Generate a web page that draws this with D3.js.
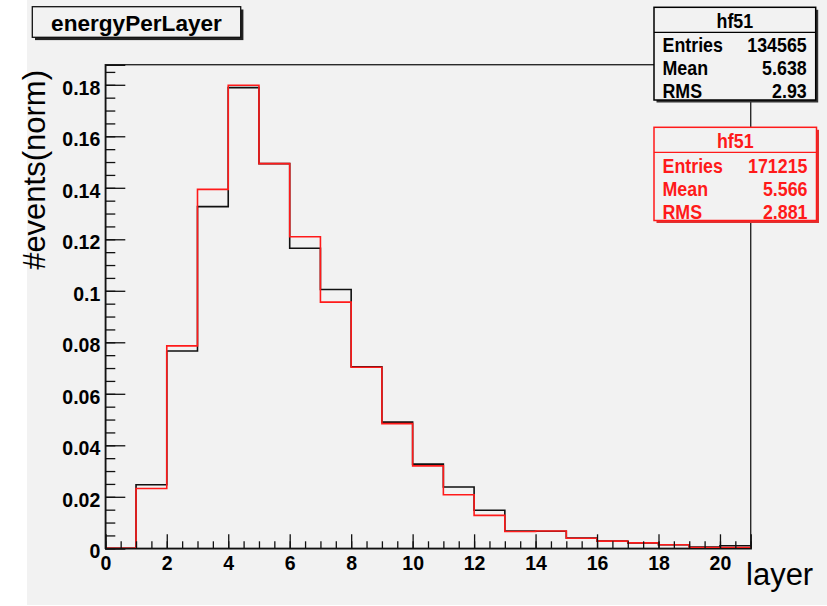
<!DOCTYPE html>
<html>
<head>
<meta charset="utf-8">
<script src="https://cdn.jsdelivr.net/npm/d3@7"></script>
<style>
  html, body { margin: 0; padding: 0; background: #ffffff; }
  svg { display: block; font-family: "Liberation Sans", Arial, Helvetica, sans-serif; }
</style>
</head>
<body>
<svg id="chart" width="827" height="606"></svg>
<script>
// Layer bins 0..20 (unit width), normalized event fractions
const binEdges = d3.range(0, 22);           // 0,1,...,21
const hBlack = [0, 0.0247, 0.0766, 0.1327, 0.1789, 0.1494, 0.1165, 0.1005, 0.0705, 0.0490,
                0.0327, 0.0238, 0.0148, 0.0067, 0.0066, 0.0040, 0.0028, 0.0021, 0.0014, 0.0005, 0.0010];
const hRed   = [0, 0.0232, 0.0786, 0.1394, 0.1798, 0.1494, 0.1210, 0.0956, 0.0703, 0.0484,
                0.0320, 0.0208, 0.0128, 0.0065, 0.0067, 0.0039, 0.0028, 0.0021, 0.0014, 0.0003, 0.0003];

// Axis ticks and labels
const xMajorTicks = [0, 2, 4, 6, 8, 10, 12, 14, 16, 18, 20];
const xTickLabels = ["0", "2", "4", "6", "8", "10", "12", "14", "16", "18", "20"];
const yMajorTicks = [0, 0.02, 0.04, 0.06, 0.08, 0.10, 0.12, 0.14, 0.16, 0.18];
const yTickLabels = ["0", "0.02", "0.04", "0.06", "0.08", "0.1", "0.12", "0.14", "0.16", "0.18"];

// Statistics boxes
const statNames = ["Entries", "Mean", "RMS"];
const statsBlack = ["134565", "5.638", "2.93"];
const statsRed = ["171215", "5.566", "2.881"];
const histName = "hf51";
const title = "energyPerLayer";

const svg = d3.select("#chart");
const bg = "#f2f2f2";

// canvas
svg.append("rect").attr("x", 27).attr("y", 0).attr("width", 800).attr("height", 605).attr("fill", bg);

const x = d3.scaleLinear().domain([0, 21]).range([105.3, 750.7]);
const y = d3.scaleLinear().domain([0, 0.1878]).range([548.3, 64.7]);

// frame
svg.append("rect")
  .attr("x", x(0)).attr("y", y.range()[1])
  .attr("width", x(21) - x(0)).attr("height", y(0) - y.range()[1])
  .attr("fill", "none").attr("stroke", "#2a2a2a").attr("stroke-width", 1.4);

// histograms as step outlines
function stepPath(vals) {
  const pts = vals.map((v, i) => [binEdges[i], v]);
  pts.push([binEdges[vals.length], vals[vals.length - 1]]);
  return d3.line().x(d => x(d[0])).y(d => y(d[1])).curve(d3.curveStepAfter)(pts);
}
svg.append("path").attr("d", stepPath(hBlack))
  .attr("fill", "none").attr("stroke", "#111").attr("stroke-width", 1.6);
svg.append("path").attr("d", stepPath(hRed))
  .attr("fill", "none").attr("stroke", "#ff1a1a").attr("stroke-width", 1.6);

// y axis: minor ticks
svg.append("g").attr("transform", `translate(${x(0)},0)`)
  .call(d3.axisLeft(y).tickValues(d3.range(0, 0.186, 0.005)).tickSize(-10).tickFormat(""))
  .call(g => g.select(".domain").remove())
  .selectAll("line").attr("stroke", "#111").attr("stroke-width", 1.3);

// y axis: major ticks and labels
const yAxis = svg.append("g").attr("transform", `translate(${x(0)},0)`)
  .call(d3.axisLeft(y).tickValues(yMajorTicks).tickSize(-20).tickPadding(5)
    .tickFormat((d, i) => yTickLabels[i]));
yAxis.select(".domain").attr("stroke", "#111").attr("stroke-width", 1.4);
yAxis.selectAll("line").attr("stroke", "#111").attr("stroke-width", 1.3);
yAxis.selectAll("text").attr("font-size", 19.5).attr("font-weight", "bold")
  .attr("fill", "#000").attr("dy", "0.48em")
  .attr("font-family", "'Liberation Sans', Arial, sans-serif");

// x axis: minor ticks
svg.append("g").attr("transform", `translate(0,${y(0)})`)
  .call(d3.axisBottom(x).tickValues(d3.range(0, 21.01, 0.5)).tickSize(-7).tickFormat(""))
  .call(g => g.select(".domain").remove())
  .selectAll("line").attr("stroke", "#111").attr("stroke-width", 1.3);

// x axis: major ticks and labels
const xAxis = svg.append("g").attr("transform", `translate(0,${y(0)})`)
  .call(d3.axisBottom(x).tickValues(xMajorTicks).tickSize(-14).tickPadding(8)
    .tickFormat((d, i) => xTickLabels[i]));
xAxis.select(".domain").attr("stroke", "#111").attr("stroke-width", 1.4);
xAxis.selectAll("line").attr("stroke", "#111").attr("stroke-width", 1.3);
xAxis.selectAll("text").attr("font-size", 19.5).attr("font-weight", "bold")
  .attr("fill", "#000")
  .attr("font-family", "'Liberation Sans', Arial, sans-serif");

// axis titles
svg.append("text")
  .attr("transform", "translate(45,70) rotate(-90)")
  .attr("text-anchor", "end").attr("font-size", 31).attr("fill", "#000")
  .text("#events(norm)");
svg.append("text")
  .attr("x", 746).attr("y", 585)
  .attr("font-size", 31).attr("fill", "#000")
  .text("layer");

// title box
svg.append("rect").attr("x", 35).attr("y", 9.5).attr("width", 208.4).attr("height", 30.6).attr("fill", "#222");
svg.append("rect").attr("x", 32.3).attr("y", 6.7).attr("width", 208.4).attr("height", 30.6)
  .attr("fill", bg).attr("stroke", "#111").attr("stroke-width", 1.3);
svg.append("text").attr("x", 136.5).attr("y", 30.8).attr("text-anchor", "middle")
  .attr("font-size", 22.6).attr("font-weight", "bold").attr("fill", "#000").text(title);

// slightly condensed bold text used inside the statistics boxes
function statText(tx, ty, anchor, color, str) {
  svg.append("text")
    .attr("transform", `translate(${tx},${ty}) scale(0.9,1)`)
    .attr("text-anchor", anchor)
    .attr("font-size", 19.8).attr("font-weight", "bold").attr("fill", color).text(str);
}

// statistics box
function statsBox(x0, y0, w, h, lineY, nameY, rowYs, values, color, shadow) {
  svg.append("rect").attr("x", x0 + 2.5).attr("y", y0 + 2.5).attr("width", w).attr("height", h).attr("fill", shadow);
  svg.append("rect").attr("x", x0).attr("y", y0).attr("width", w).attr("height", h)
    .attr("fill", bg).attr("stroke", color).attr("stroke-width", 1.5);
  svg.append("line").attr("x1", x0).attr("x2", x0 + w).attr("y1", lineY).attr("y2", lineY)
    .attr("stroke", color).attr("stroke-width", 1.3);
  statText(x0 + w / 2, nameY, "middle", color, histName);
  statNames.forEach((n, i) => {
    statText(x0 + 8.5, rowYs[i], "start", color, n);
    statText(x0 + w - 9, rowYs[i], "end", color, values[i]);
  });
}
statsBox(654, 7.3, 161.7, 92.7, 32.3, 28, [51.5, 75, 98.3], statsBlack, "#000", "#333");
statsBox(654, 127.3, 162.5, 93.2, 152.3, 147.7, [172.5, 196, 219], statsRed, "#ff1a1a", "#e03030");
</script>
</body>
</html>
